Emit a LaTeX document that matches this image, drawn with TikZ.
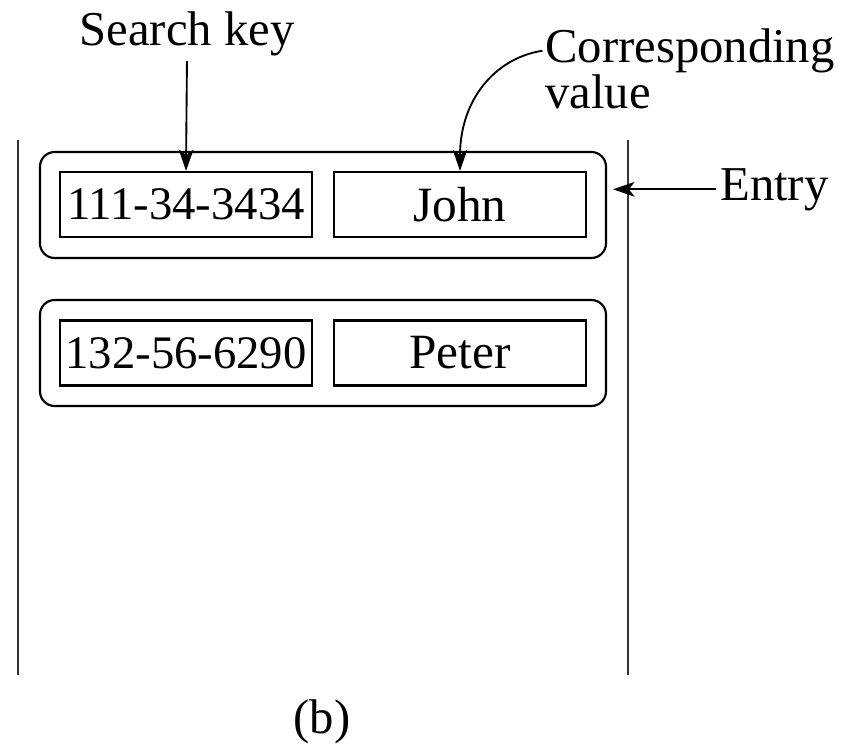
\documentclass[tikz,border=0pt]{standalone}
\usepackage{fontspec}
\setmainfont{Liberation Serif}
\usetikzlibrary{arrows.meta}
\begin{document}
\begin{tikzpicture}[x=0.75pt,y=-0.75pt,
  lbl/.style={font=\fontsize{36.5}{40}\selectfont, inner sep=0pt},
  entrybox/.style={draw, line width=1.6pt, rounded corners=11pt, minimum width=424.5pt, minimum height=79.5pt, inner sep=0pt},
  cellbox/.style={draw, line width=1.6pt, minimum width=189pt, minimum height=48.75pt, font=\fontsize{35}{40}\selectfont, inner sep=0pt},
  namebox/.style={cellbox, font=\fontsize{37}{40}\selectfont},
  arr/.style={line width=1.4pt, -{Stealth[length=16pt,width=11pt,inset=4pt]}},
  wall/.style={line width=1.6pt, draw=black!80}]
\useasboundingbox (0,0) rectangle (856,747);
% walls
\coordinate (lt) at (18,140);
\coordinate (lb) at (18,675);
\coordinate (rt) at (628,140);
\coordinate (rb) at (628,675);
\draw[wall] (lt) -- (lb);
\draw[wall] (rt) -- (rb);
% entries
\node[entrybox] (e1) at (323,205) {};
\node[entrybox] (e2) at (323,353) {};
\node[cellbox] (k1) at (186,204.5) {111-34-3434};
\node[namebox] (v1) at (460,204.5) {John};
\node[cellbox] (k2) at (186,353) {132-56-6290};
\node[namebox] (v2) at (460,353) {Peter};
% labels
\node[lbl, anchor=base] (sk) at (187,45) {Search key};
\node[lbl, anchor=base west] (corr) at (545,62) {Corresponding};
\node[lbl, anchor=base west] (val) at (545,108) {value};
\node[lbl, anchor=base west] (ent) at (720,200) {Entry};
\node[lbl, anchor=base] (cap) at (322,733) {(b)};
% arrows
\draw[arr, shorten <=4pt] (sk.south) -- (k1.north);
\draw[arr, shorten <=2pt] (corr.west) .. controls (495,58) and (460,100) .. (v1.north);
\draw[arr, shorten <=3pt, shorten >=4.5pt] (ent.west) -- (ent.west -| e1.east);
\end{tikzpicture}
\end{document}
